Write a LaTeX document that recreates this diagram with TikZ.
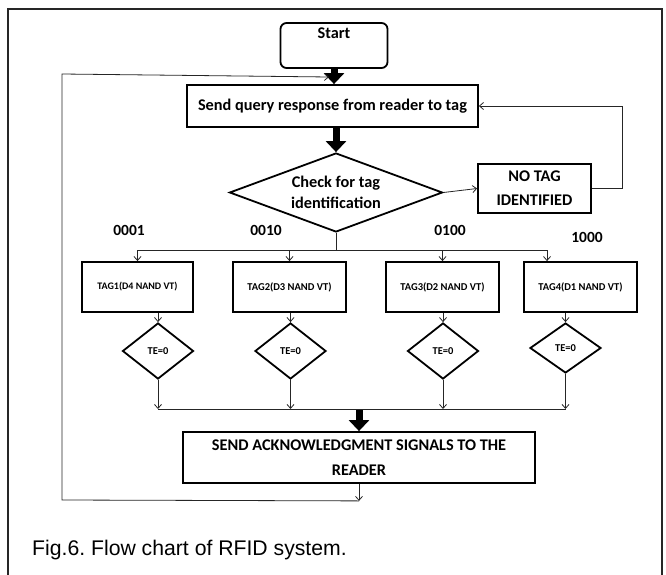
\documentclass[tikz,border=0pt]{standalone}
\usepackage{fontspec}
\setmainfont{Carlito}
\newfontfamily\capfont{Liberation Sans}
\usetikzlibrary{arrows.meta,shapes.geometric,calc}
\frenchspacing
\begin{document}
\begin{tikzpicture}[x=1pt,y=-1pt,
  box/.style={draw=black,line width=1.8pt,rectangle,inner sep=0pt,align=center,
    font=\bfseries\fontsize{16.3}{24}\selectfont},
  tagbox/.style={draw=black,line width=1.8pt,rectangle,inner sep=0pt,align=center,
    minimum width=113pt,minimum height=50pt,font=\bfseries\fontsize{10.5}{12}\selectfont},
  bigdia/.style={draw=black,line width=1.8pt,shape=diamond,aspect=2.7,inner sep=0pt,align=center,
    minimum width=213pt,minimum height=79pt,font=\bfseries\fontsize{16.3}{21}\selectfont},
  tedia/.style={draw=black,line width=1.8pt,shape=diamond,aspect=1.3,inner sep=0pt,
    minimum width=71pt,minimum height=56pt,font=\bfseries\fontsize{10.5}{12}\selectfont},
  code/.style={font=\bfseries\fontsize{15.5}{18}\selectfont,inner sep=0pt},
  thin/.style={draw=black!85,line width=0.8pt},
  thinarrow/.style={thin,-{Straight Barb[length=4pt,width=7pt]}},
  thick/.style={draw=black,line width=7pt,-{Triangle[length=11pt,width=20pt]}}
]
\useasboundingbox (0,0) rectangle (666,575);
\clip (0,0) rectangle (666,575);
\fill[white] (0,0) rectangle (666,575);
% outer frame
\draw[line width=2.2pt,black!85] (8,590) -- (8,9) -- (662,9) -- (662,590);

% nodes
\node[box,rounded corners=6pt,minimum width=107pt,text height=11pt,text depth=24pt,inner ysep=5pt] (start) at (334,45.5) {Start};
\node[box,minimum width=291pt,minimum height=42pt] (query) at (332.5,106) {Send query response from reader to tag};
\node[bigdia] (check) at (336,192.5) {Check for tag\\identification};
\node[box,minimum width=113pt,minimum height=49pt] (notag) at (534.5,188.5) {NO TAG\\IDENTIFIED};

\node[tagbox,minimum width=111pt] (tag1) at (137.5,287) {\fontsize{10}{12}\selectfont TAG1(D4 NAND VT)};
\node[tagbox] (tag2) at (289.5,287) {TAG2(D3 NAND VT)};
\node[tagbox] (tag3) at (442.5,287) {TAG3(D2 NAND VT)};
\node[tagbox] (tag4) at (580.5,287) {TAG4(D1 NAND VT)};

\node[tedia] (d1) at (158,351) {TE=0};
\node[tedia] (d2) at (290.5,351) {TE=0};
\node[tedia] (d3) at (443,351) {TE=0};
\node[tedia,minimum height=50pt] (d4) at (565.5,348) {TE=0};

\node[box,minimum width=352pt,minimum height=51pt,font=\bfseries\fontsize{16.3}{25}\selectfont] (ack) at (359,457.5) {SEND ACKNOWLEDGMENT SIGNALS TO THE\\READER};

\node[code] (c1) at (129,230) {0001};
\node[code] (c2) at (266,230) {0010};
\node[code] (c3) at (450,230) {0100};
\node[code] (c4) at (587,237) {1000};

\node[anchor=base west,inner sep=0pt,font=\capfont\fontsize{21.2}{24}\selectfont] (cap) at (32,555) {Fig.6. Flow chart of RFID system.};

% coordinates
\coordinate (split) at (336,250);
\coordinate (h1) at (137.5,250);
\coordinate (h2) at (289.5,250);
\coordinate (h3) at (442.5,250);
\coordinate (h4) at (547,250);
\coordinate (b1) at (158,409);
\coordinate (b4) at (565.5,409);
\coordinate (ackdown) at ($(ack.south)+(0,17)$);
\coordinate (lb) at (62,500);
\coordinate (lt) at (62,74);
\coordinate (lq) at (329,77);

% thick arrows
\draw[thick] (start.south) -- (start.south |- query.north);
\draw[thick] (query.south -| check.north) -- (check.north);
\draw[thick] (ack.north |- b1) -- (ack.north);

% check -> no tag and loop back
\draw[thinarrow] (check.east) -- (notag.west);
\draw[thinarrow] (notag.east) -- ++(30,0) |- (query.east);

% branch to tags
\draw[thin] (check.south) -- (split);
\draw[thin] (h1) -- (h4);
\draw[thinarrow] (h1) -- (tag1.north);
\draw[thinarrow] (h2) -- (tag2.north);
\draw[thinarrow] (h3) -- (tag3.north);
\draw[thinarrow] (h4) -- (h4 |- tag4.north);

% tags to TE diamonds
\draw[thinarrow] (d1.north |- tag1.south) -- (d1.north);
\draw[thinarrow] (d2.north |- tag2.south) -- (d2.north);
\draw[thinarrow] (d3.north |- tag3.south) -- (d3.north);
\draw[thinarrow] (d4.north |- tag4.south) -- (d4.north);

% TE diamonds to collector
\draw[thinarrow] (d1.south) -- (b1);
\draw[thinarrow] (d2.south) -- (d2.south |- b1);
\draw[thinarrow] (d3.south) -- (d3.south |- b1);
\draw[thinarrow] (d4.south) -- (b4);
\draw[thin] (b1) -- (b4);

% ack loop back
\draw[thinarrow] (ack.south) -- (ackdown);
\draw[thinarrow] (ackdown) -- (lb) -- (lt) -- (lq);
\end{tikzpicture}
\end{document}
